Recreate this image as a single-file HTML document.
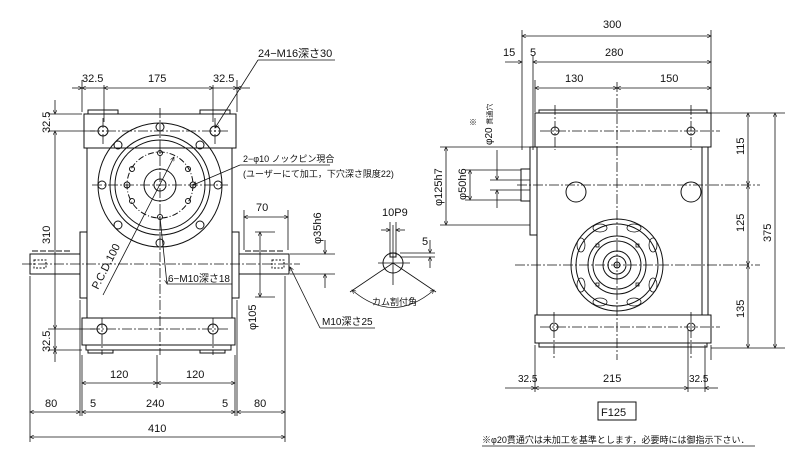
<!DOCTYPE html>
<html><head><meta charset="utf-8"><style>
html,body{margin:0;padding:0;background:#fff;}
svg{display:block;}
text{font-family:"Liberation Sans","Noto Sans CJK JP",sans-serif;fill:#111;}
</style></head><body>
<svg width="797" height="472" viewBox="0 0 797 472" xmlns="http://www.w3.org/2000/svg">
<defs>
<marker id="a" viewBox="0 0 10 10" refX="10" refY="5" markerWidth="7" markerHeight="5" orient="auto-start-reverse"><path d="M0,0 L10,5 L0,10" fill="none" stroke="#111" stroke-width="1.5"/></marker>
</defs>
<g stroke="#111" stroke-width="1" fill="none">
<!-- ===== LEFT VIEW ===== -->
<!-- top block -->
<rect x="84" y="114" width="152" height="34"/>
<rect x="88" y="110" width="30" height="4"/><rect x="200" y="110" width="30" height="4"/>
<!-- body -->
<rect x="87" y="148" width="145" height="170"/>
<rect x="80" y="232" width="7" height="66"/><rect x="232" y="232" width="7" height="66"/>
<!-- bottom block -->
<rect x="82" y="318" width="153" height="27"/>
<rect x="86" y="345" width="145" height="5"/>
<rect x="88" y="350" width="25" height="3"/><rect x="200" y="350" width="25" height="3"/>
<!-- shafts -->
<rect x="30" y="254" width="50" height="20"/>
<rect x="239" y="254" width="50" height="20"/>
<rect x="34" y="260" width="12" height="8" stroke-dasharray="2,1.5"/>
<rect x="272" y="260" width="12" height="8" stroke-dasharray="2,1.5"/>
<path d="M32,251 H70 M245,251 H285" stroke-dasharray="6,2"/>
<!-- holes on blocks -->
<circle cx="103" cy="131" r="5"/><circle cx="215" cy="131" r="5"/>
<circle cx="102" cy="329" r="5"/><circle cx="213" cy="329" r="5"/>
<!-- big circle -->
<circle cx="160" cy="185" r="62"/>
<circle cx="160" cy="185" r="50"/>
<circle cx="160" cy="185" r="45"/>
<circle cx="160" cy="185" r="33" stroke-dasharray="6,2,1,2"/>
<circle cx="160" cy="185" r="16"/>
<circle cx="160" cy="185" r="6"/>
<circle cx="160" cy="127" r="4"/><circle cx="160" cy="243" r="4"/>
<circle cx="102" cy="185" r="4"/><circle cx="218" cy="185" r="4"/>
<circle cx="118" cy="145" r="4"/><circle cx="200" cy="145" r="4"/>
<circle cx="118" cy="225" r="4"/><circle cx="200" cy="225" r="4"/>
<circle cx="127" cy="185" r="3"/><circle cx="193" cy="185" r="3"/>
<circle cx="160" cy="153" r="2.5"/><circle cx="160" cy="217" r="2.5"/>
<circle cx="132" cy="169" r="2.5"/><circle cx="188" cy="169" r="2.5"/>
<circle cx="132" cy="201" r="2.5"/><circle cx="188" cy="201" r="2.5"/>
<!-- centerlines -->
<g stroke-dasharray="10,2,2,2" stroke-width="0.8">
<path d="M160,108 V355"/><path d="M92,185 H228"/><path d="M22,264 H300"/>
<path d="M90,131 H228"/><path d="M90,329 H228"/>
<path d="M103,118 V145 M215,118 V145 M102,318 V355 M213,318 V355"/>
</g>
<!-- left view dimensions -->
<g stroke-width="0.8">
<path d="M82,80 V112 M237,80 V112 M104,85 V122 M213,85 V122"/>
<path d="M72,88 H82" marker-end="url(#a)"/><path d="M82,88 H104" marker-start="url(#a)"/>
<path d="M104,88 H213" marker-start="url(#a)" marker-end="url(#a)"/>
<path d="M213,88 H237" marker-end="url(#a)"/><path d="M237,88 H250" marker-start="url(#a)"/>
<path d="M48,114 H82 M48,131 H95 M48,329 H95 M48,350 H82"/>
<path d="M55,100 V114" marker-end="url(#a)"/><path d="M55,131 V329" marker-start="url(#a)" marker-end="url(#a)"/>
<path d="M55,329 V350" marker-end="url(#a)"/><path d="M55,350 V362" marker-start="url(#a)"/>
<path d="M30,276 V442 M285,276 V442 M80,300 V416 M82,355 V416 M235,355 V416 M237,300 V416 M157,355 V388"/>
<path d="M82,383 H157" marker-start="url(#a)" marker-end="url(#a)"/>
<path d="M157,383 H235" marker-start="url(#a)" marker-end="url(#a)"/>
<path d="M30,412 H80" marker-start="url(#a)" marker-end="url(#a)"/>
<path d="M82,412 H235" marker-start="url(#a)" marker-end="url(#a)"/>
<path d="M237,412 H285" marker-start="url(#a)" marker-end="url(#a)"/>
<path d="M30,437 H285" marker-start="url(#a)" marker-end="url(#a)"/>
<!-- 70 -->
<path d="M244,210 V250 M288,210 V250"/>
<path d="M244,217 H288" marker-start="url(#a)" marker-end="url(#a)"/>
<!-- phi105 -->
<path d="M255,232 H275 M255,297 H275"/>
<path d="M260,232 V297" marker-start="url(#a)" marker-end="url(#a)"/>
<!-- phi35 -->
<path d="M290,254 H335 M290,274 H335"/>
<path d="M325,240 V254" marker-end="url(#a)"/><path d="M325,274 V288" marker-start="url(#a)"/>
<!-- leaders -->
<path d="M258,60 L215,128" marker-end="url(#a)"/><path d="M258,60 H335"/>
<path d="M240,165 L193,185" marker-end="url(#a)"/><path d="M240,165 H330"/>
<path d="M103,295 L174,157" marker-end="url(#a)"/>
<path d="M167,284 L160,217" marker-start="url(#a)"/><path d="M167,284 H232"/>
<path d="M320,328 L290,267" marker-end="url(#a)"/><path d="M320,328 H375"/>
</g>
<!-- key view -->
<circle cx="393" cy="263" r="10"/>
<rect x="390" y="253" width="6" height="4"/>
<g stroke-width="0.8">
<path d="M378,263 H410 M393,225 V285 M390,222 V253 M396,222 V253"/>
<path d="M381,230 H390" marker-end="url(#a)"/><path d="M396,230 H405" marker-start="url(#a)"/>
<path d="M400,253 H435 M400,257 H435"/>
<path d="M430,240 V253" marker-end="url(#a)"/><path d="M430,257 V268" marker-start="url(#a)"/>
<path d="M393,263 L350,292 M393,263 L436,292"/>
<path d="M352,290 Q393,325 434,290" marker-start="url(#a)" marker-end="url(#a)"/>
</g>
<!-- ===== RIGHT VIEW ===== -->
<rect x="535" y="113" width="176" height="34"/>
<rect x="539" y="110" width="168" height="3"/>
<rect x="537" y="147" width="171" height="168"/>
<path d="M702,147 V315"/>
<rect x="530" y="147" width="7" height="88"/>
<rect x="521" y="169" width="9" height="32"/>
<rect x="535" y="315" width="176" height="28"/>
<rect x="539" y="343" width="168" height="4"/>
<circle cx="555" cy="131" r="4"/><circle cx="691" cy="131" r="4"/>
<circle cx="554" cy="327" r="4"/><circle cx="691" cy="327" r="4"/>
<circle cx="576" cy="192" r="10"/><circle cx="691" cy="192" r="10"/>
<circle cx="617" cy="265" r="46"/><circle cx="617" cy="265" r="41"/>
<circle cx="617" cy="265" r="29"/><circle cx="617" cy="265" r="24"/>
<circle cx="617" cy="265" r="14"/><circle cx="617" cy="265" r="9"/><circle cx="617" cy="265" r="3"/>
<g stroke-width="0.8">
<ellipse cx="600" cy="228" rx="7" ry="4"/><ellipse cx="634" cy="228" rx="7" ry="4"/>
<ellipse cx="600" cy="302" rx="7" ry="4"/><ellipse cx="634" cy="302" rx="7" ry="4"/>
<ellipse cx="581" cy="245" rx="4" ry="7"/><ellipse cx="653" cy="245" rx="4" ry="7"/>
<ellipse cx="581" cy="285" rx="4" ry="7"/><ellipse cx="653" cy="285" rx="4" ry="7"/>
<rect x="596" y="244" width="3" height="3"/><rect x="636" y="244" width="3" height="3"/>
<rect x="596" y="283" width="3" height="3"/><rect x="636" y="283" width="3" height="3"/>
</g>
<g stroke-dasharray="10,2,2,2" stroke-width="0.8">
<path d="M617,82 V360"/><path d="M517,185 H760"/><path d="M515,265 H760"/>
<path d="M540,131 H720 M540,327 H720"/>
<path d="M555,105 V150 M691,105 V150 M554,312 V360 M691,312 V360"/>
</g>
<!-- right dims -->
<g stroke-width="0.8">
<path d="M522,30 V150 M711,30 V120 M533,55 V150 M535,80 V112 M535,345 V392 M705,345 V392 M688,330 V392 M711,345 V360"/>
<path d="M522,36 H711" marker-start="url(#a)" marker-end="url(#a)"/>
<path d="M505,62 H522" marker-end="url(#a)"/><path d="M533,62 H711" marker-start="url(#a)" marker-end="url(#a)"/>
<path d="M535,88 H617" marker-start="url(#a)" marker-end="url(#a)"/>
<path d="M617,88 H711" marker-start="url(#a)" marker-end="url(#a)"/>
<path d="M711,113 H785 M711,348 H785"/>
<path d="M748,113 V185" marker-start="url(#a)" marker-end="url(#a)"/>
<path d="M748,185 V265" marker-start="url(#a)" marker-end="url(#a)"/>
<path d="M748,265 V348" marker-start="url(#a)" marker-end="url(#a)"/>
<path d="M775,113 V348" marker-start="url(#a)" marker-end="url(#a)"/>
<path d="M440,147 H530 M440,225 H530 M465,170 H521 M465,200 H521 M490,180 H530 M490,190 H530"/>
<path d="M446,147 V225" marker-start="url(#a)" marker-end="url(#a)"/>
<path d="M470,170 V200" marker-start="url(#a)" marker-end="url(#a)"/>
<path d="M497,150 V180" marker-end="url(#a)"/><path d="M497,190 V208" marker-start="url(#a)"/>
<path d="M505,388 H535" marker-end="url(#a)"/><path d="M535,388 H688" marker-start="url(#a)" marker-end="url(#a)"/>
<path d="M705,388 H718" marker-start="url(#a)"/><path d="M688,388 H705"/>
<path d="M482,446 H755"/>
</g>
<rect x="598" y="402" width="38" height="18"/>
</g>
<!-- TEXT -->
<g font-size="11">
<text x="82" y="82">32.5</text><text x="148" y="82">175</text><text x="213" y="82">32.5</text>
<text x="258" y="57">24−M16深さ30</text>
<text x="243" y="162" font-size="9">2−φ10 ノックピン現合</text>
<text x="243" y="177" font-size="9">(ユーザーにて加工，下穴深さ限度22)</text>
<text x="168" y="282" font-size="10">6−M10深さ18</text>
<text x="322" y="325" font-size="10">M10深さ25</text>
<text x="256" y="211">70</text>
<text x="382" y="216">10P9</text>
<text x="422" y="245">5</text>
<text x="372" y="305" font-size="9">カム割付角</text>
<text transform="translate(50,133) rotate(-90)">32.5</text>
<text transform="translate(50,244) rotate(-90)">310</text>
<text transform="translate(50,352) rotate(-90)">32.5</text>
<text transform="translate(321,244) rotate(-90)">φ35h6</text>
<text transform="translate(256,330) rotate(-90)">φ105</text>
<text transform="translate(98,290) rotate(-63)">P.C.D.100</text>
<text x="110" y="378">120</text><text x="186" y="378">120</text>
<text x="45" y="407">80</text><text x="90" y="407">5</text><text x="146" y="407">240</text><text x="222" y="407">5</text><text x="254" y="407">80</text>
<text x="148" y="432">410</text>
<text x="603" y="28">300</text>
<text x="503" y="56">15</text><text x="530" y="56">5</text>
<text x="605" y="56">280</text>
<text x="565" y="82">130</text><text x="660" y="82">150</text>
<text transform="translate(744,155) rotate(-90)">115</text>
<text transform="translate(744,232) rotate(-90)">125</text>
<text transform="translate(744,318) rotate(-90)">135</text>
<text transform="translate(771,242) rotate(-90)">375</text>
<text transform="translate(442,206) rotate(-90)">φ125h7</text>
<text transform="translate(466,200) rotate(-90)">φ50h6</text>
<text transform="translate(492,145) rotate(-90)" font-size="10">φ20 <tspan font-size="7">貫通穴</tspan></text>
<text x="469" y="125" font-size="8">※</text>
<text x="518" y="382" font-size="10">32.5</text><text x="603" y="382">215</text><text x="689" y="382" font-size="10">32.5</text>
<text x="601" y="416">F125</text>
<text x="482" y="443" font-size="9">※φ20貫通穴は未加工を基準とします，必要時には御指示下さい．</text>
</g>
</svg>
</body></html>
